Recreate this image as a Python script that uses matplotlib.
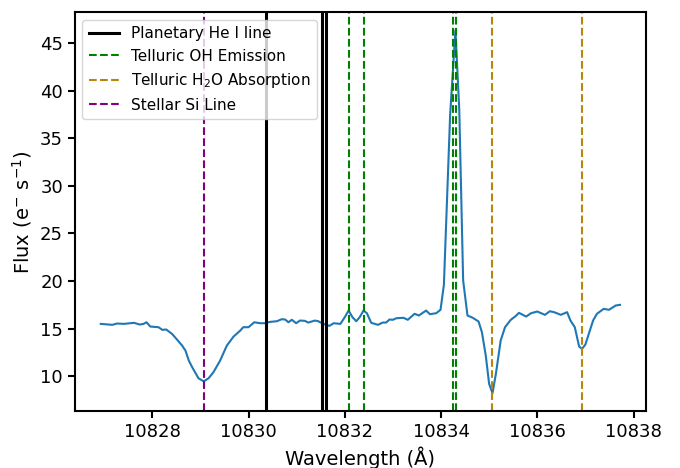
import numpy as np
import matplotlib
matplotlib.use("Agg")
import matplotlib.pyplot as plt

# spectrum (wavelength in Angstrom, flux in e-/s)
wave = [10826.93, 10827.17, 10827.27, 10827.41, 10827.62, 10827.74, 10827.82, 10827.88,
        10827.96, 10828.13, 10828.21, 10828.29, 10828.41, 10828.52, 10828.62, 10828.69,
        10828.76, 10828.83, 10828.89, 10828.96, 10829.07, 10829.17, 10829.27, 10829.41,
        10829.55, 10829.69, 10829.83, 10829.89, 10830.00, 10830.12, 10830.24, 10830.34,
        10830.45, 10830.59, 10830.69, 10830.76, 10830.83, 10830.90, 10830.99, 10831.07,
        10831.17, 10831.24, 10831.38, 10831.45, 10831.55, 10831.68, 10831.77, 10831.91,
        10832.00, 10832.08, 10832.16, 10832.24, 10832.31, 10832.39, 10832.46, 10832.55,
        10832.69, 10832.79, 10832.86, 10832.93, 10833.00, 10833.07, 10833.22, 10833.31,
        10833.45, 10833.54, 10833.69, 10833.77, 10833.90, 10833.99, 10834.06, 10834.19,
        10834.30, 10834.38, 10834.46, 10834.55, 10834.66, 10834.78, 10834.85, 10834.93,
        10835.00, 10835.07, 10835.14, 10835.24, 10835.33, 10835.45, 10835.54, 10835.62,
        10835.77, 10835.87, 10836.00, 10836.16, 10836.26, 10836.35, 10836.49, 10836.62,
        10836.69, 10836.78, 10836.87, 10836.93, 10837.00, 10837.16, 10837.24, 10837.38,
        10837.49, 10837.63, 10837.72]
flux = [15.49, 15.39, 15.53, 15.49, 15.60, 15.42, 15.49, 15.66,
        15.21, 15.14, 14.86, 14.90, 14.44, 13.81, 13.21, 12.68,
        11.63, 10.93, 10.40, 9.77, 9.45, 9.77, 10.40, 11.63,
        13.21, 14.16, 14.79, 15.14, 15.14, 15.66, 15.56, 15.56,
        15.70, 15.77, 15.98, 15.95, 15.66, 15.92, 15.56, 15.84,
        15.81, 15.63, 15.84, 15.77, 15.49, 15.28, 15.56, 15.49,
        16.19, 16.89, 16.19, 15.77, 16.19, 16.89, 16.61, 15.60,
        15.39, 15.63, 15.63, 15.95, 15.92, 16.08, 16.13, 15.92,
        16.55, 16.37, 16.89, 16.51, 16.61, 16.97, 19.60, 37.50,
        46.35, 37.90, 20.05, 16.37, 16.13, 15.74, 14.61, 12.16,
        9.18, 8.20, 10.23, 13.74, 15.14, 15.92, 16.26, 16.65,
        16.26, 16.61, 16.79, 16.44, 16.82, 16.72, 16.44, 16.72,
        15.84, 15.14, 13.11, 12.86, 13.32, 15.84, 16.55, 17.07,
        16.97, 17.42, 17.49]

# marked line positions (Angstrom)
he_lines = [10830.36, 10831.52, 10831.61]
oh_lines = [10832.09, 10832.40, 10834.24, 10834.31]
h2o_lines = [10835.05, 10836.92]
si_lines = [10829.08]

fig = plt.figure(figsize=(6.8, 4.68), dpi=100)
ax = fig.add_axes([0.110, 0.121, 0.840, 0.853])

ax.plot(wave, flux, color="C0", lw=1.5)

for i, w in enumerate(he_lines):
    ax.axvline(w, color="black", lw=2.2, label="Planetary He I line" if i == 0 else None)
for i, w in enumerate(oh_lines):
    ax.axvline(w, color="green", ls="--", lw=1.5, label="Telluric OH Emission" if i == 0 else None)
for i, w in enumerate(h2o_lines):
    ax.axvline(w, color="darkgoldenrod", ls="--", lw=1.5,
               label="Telluric H$_2$O Absorption" if i == 0 else None)
for i, w in enumerate(si_lines):
    ax.axvline(w, color="purple", ls="--", lw=1.5, label="Stellar Si Line" if i == 0 else None)

ax.set_xticks([10828, 10830, 10832, 10834, 10836, 10838])
ax.set_xticklabels(["10828", "10830", "10832", "10834", "10836", "10838"])
ax.tick_params(labelsize=13, width=1.5, length=5)
for sp in ax.spines.values():
    sp.set_linewidth(1.5)

ax.set_xlabel("Wavelength (Å)", fontsize=14)
ax.set_ylabel("Flux (e$^{-}$ s$^{-1}$)", fontsize=14)
ax.legend(loc="upper left", fontsize=11)

fig.savefig("out.png", dpi=100)
